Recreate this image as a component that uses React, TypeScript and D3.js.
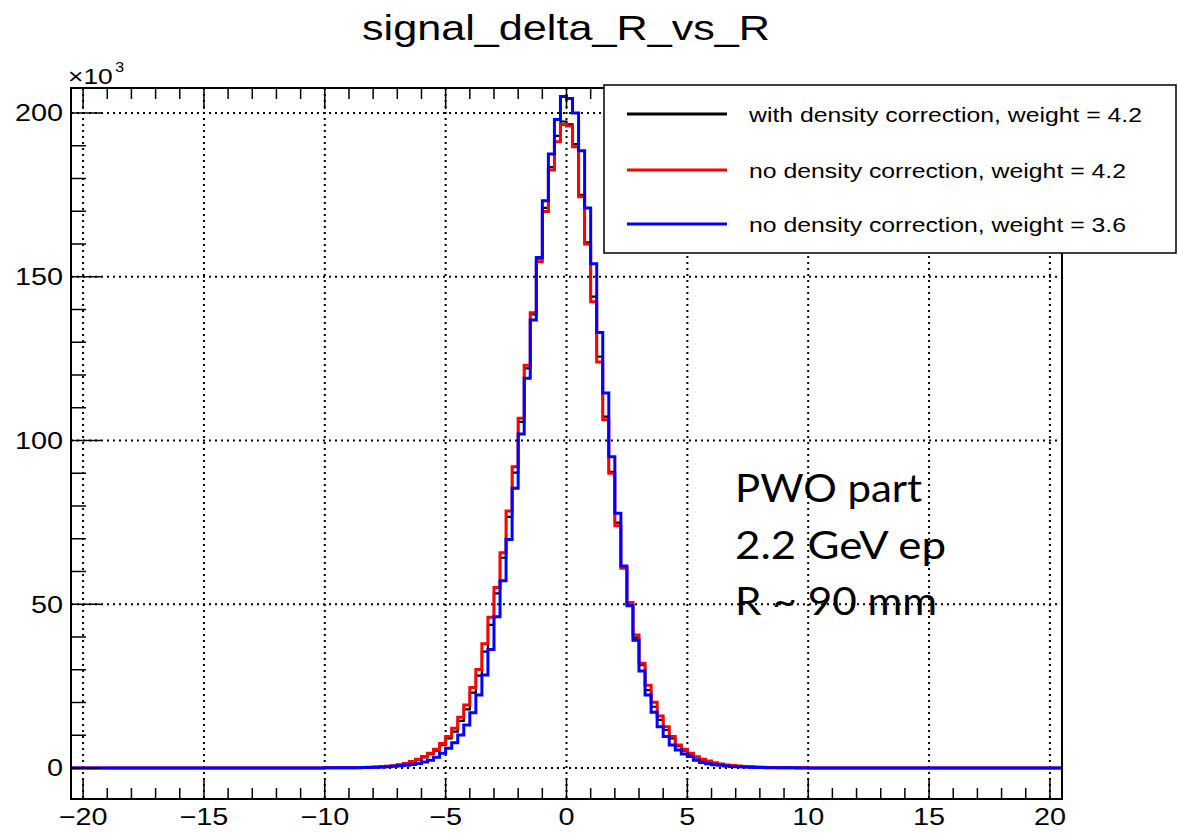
import React from 'react';
import * as d3 from 'd3';

// ---------- data ----------
const TITLE = 'signal_delta_R_vs_R';
const X_MIN = -20.5;
const X_MAX = 20.5;
const BIN_WIDTH = 0.25;
const DATA_X_START = -10; // left edge of the first stored bin; bins outside the stored window are empty
const X_TICKS = [-20, -15, -10, -5, 0, 5, 10, 15, 20];
const Y_TICKS = [0, 50, 100, 150, 200]; // in units of 10^3
const SERIES_LABELS = [
  'with density correction, weight = 4.2',
  'no density correction, weight = 4.2',
  'no density correction, weight = 3.6',
];
const SERIES_COLORS = ['#000000', '#ff0000', '#0000ff'];
const NOTE_LINES = ['PWO part', '2.2 GeV ep', 'R ~ 90 mm'];

// counts (x10^3) for bins of width 0.25 from -10 to +10
const blackCounts = [
  0.04, 0.05, 0.06, 0.08, 0.1, 0.13, 0.17, 0.22, 0.28, 0.37, 0.48, 0.65, 0.92,
  1.3, 1.85, 2.5, 3.2, 4.2, 5.3, 7.0, 9.0, 11.1, 14.4, 17.9, 23.0, 28.2, 35.5,
  43.7, 53.3, 64.2, 76.7, 90.2, 105.7, 122, 138.5, 155.5, 171, 183.5, 193, 197.4,
  196.5, 190.5, 175, 160.5, 143.9, 125.6, 107.3, 90.4, 74.9, 61.3, 50, 39.8, 31.4,
  23.8, 18.7, 14.7, 11.6, 9.0, 6.7, 5.3, 4.2, 3.2, 2.5, 1.9, 1.5, 1.15, 0.9, 0.7,
  0.55, 0.42, 0.33, 0.26, 0.2, 0.16, 0.12, 0.1, 0.08, 0.06, 0.05, 0.04,
];
const redCounts = [
  0.05, 0.06, 0.07, 0.09, 0.11, 0.14, 0.18, 0.23, 0.3, 0.4, 0.52, 0.7, 0.98,
  1.4, 2.0, 2.7, 3.5, 4.5, 5.7, 7.5, 9.6, 12.1, 15.5, 19.2, 24.6, 30.1, 37.9,
  46, 55.1, 65.7, 78.5, 92, 106.8, 123, 139, 154.6, 169.9, 182.6, 191.2, 196.5,
  196, 189.7, 174.4, 160, 142.4, 124, 106.3, 90, 74, 61, 50.5, 40.6, 32,
  25.3, 20.1, 15.9, 12.6, 9.6, 7.0, 5.7, 4.5, 3.4, 2.7, 2.1, 1.6, 1.25, 0.95, 0.75,
  0.58, 0.45, 0.35, 0.28, 0.22, 0.17, 0.13, 0.1, 0.08, 0.06, 0.05, 0.04,
];
const blueCounts = [
  0.04, 0.05, 0.06, 0.07, 0.09, 0.11, 0.14, 0.18, 0.23, 0.3, 0.4, 0.5, 0.65,
  0.85, 1.1, 1.4, 1.8, 2.4, 3.3, 4.5, 6.0, 7.7, 10.1, 13.1, 16.9, 22.3, 28.4,
  36.2, 46.2, 57.2, 69.8, 85.4, 102, 119, 136.8, 155.9, 173.2, 187.5, 198, 205,
  204.4, 200, 188.5, 171, 154, 133, 114.5, 95, 77.8, 61.7, 49.5, 39, 29.6,
  22.3, 17, 12.6, 9.6, 7.0, 5.5, 4.3, 3.5, 2.4, 1.7, 1.3, 1.0, 0.8, 0.6, 0.45,
  0.35, 0.28, 0.22, 0.17, 0.13, 0.1, 0.08, 0.06, 0.05, 0.04, 0.03, 0.03,
];
const SERIES = [blackCounts, redCounts, blueCounts];

// ---------- layout ----------
const W = 1178;
const H = 835;
const FRAME = { left: 71, right: 1062, top: 88, bottom: 799 };
const Y_DOMAIN: [number, number] = [-9.47, 207.63];
const FONT = '"Liberation Sans", Arial, Helvetica, sans-serif';
const SX = 1.2;

const x = d3.scaleLinear().domain([X_MIN, X_MAX]).range([FRAME.left, FRAME.right]);
const y = d3.scaleLinear().domain(Y_DOMAIN).range([FRAME.bottom, FRAME.top]);

function stepPoints(counts: number[]): [number, number][] {
  const nBins = Math.round((X_MAX - X_MIN) / BIN_WIDTH);
  const pts: [number, number][] = [];
  for (let i = 0; i < nBins; i++) {
    const lo = X_MIN + i * BIN_WIDTH;
    const k = Math.round((lo - DATA_X_START) / BIN_WIDTH);
    const v = k >= 0 && k < counts.length ? counts[k] : 0;
    pts.push([lo, v]);
  }
  pts.push([X_MAX, pts[pts.length - 1][1]]);
  return pts;
}

const stepLine = d3
  .line<[number, number]>()
  .x((d) => x(d[0]))
  .y((d) => y(d[1]))
  .curve(d3.curveStepAfter);

function SText(props: {
  x: number;
  y: number;
  size: number;
  anchor?: 'start' | 'middle' | 'end';
  sx?: number;
  family?: string;
  children: React.ReactNode;
}) {
  const { sx = SX, anchor = 'start', family = FONT } = props;
  return (
    <text
      transform={`translate(${props.x},${props.y}) scale(${sx},1)`}
      fontSize={props.size}
      textAnchor={anchor}
      fontFamily={family}
      fill="#000"
    >
      {props.children}
    </text>
  );
}

export default function App() {
  const xMinor = d3.range(-20, 21, 1).filter((v) => v % 5 !== 0);
  const yMinor = d3.range(0, 201, 10).filter((v) => v % 50 !== 0);
  const xMajLen = 21;
  const xMinLen = 11;
  const yMajLen = 30;
  const yMinLen = 15;
  const legendRows = [114, 170, 224];
  const legendLens = [393, 377, 377];
  const noteLens = [187, 211, 202];

  return (
    <svg
      width={W}
      height={H}
      style={{ position: 'absolute', left: 0, top: 0, background: '#fff' }}
    >
      <rect x={0} y={0} width={W} height={H} fill="#fff" />
      {/* grid */}
      <g stroke="#000" strokeWidth={2} strokeDasharray="2 4">
        {X_TICKS.map((t) => (
          <line key={'gx' + t} x1={x(t)} x2={x(t)} y1={FRAME.top} y2={FRAME.bottom} />
        ))}
        {Y_TICKS.map((t) => (
          <line key={'gy' + t} x1={FRAME.left} x2={FRAME.right} y1={y(t)} y2={y(t)} />
        ))}
      </g>

      {/* histograms */}
      {SERIES.map((s, i) => (
        <path
          key={'h' + i}
          d={stepLine(stepPoints(s)) || ''}
          fill="none"
          stroke={SERIES_COLORS[i]}
          strokeWidth={i === 0 ? 2.2 : 3}
        />
      ))}

      {/* ticks */}
      <g stroke="#000" strokeWidth={1.5}>
        {X_TICKS.map((t) => (
          <g key={'xt' + t}>
            <line x1={x(t)} x2={x(t)} y1={FRAME.bottom} y2={FRAME.bottom - xMajLen} />
            <line x1={x(t)} x2={x(t)} y1={FRAME.top} y2={FRAME.top + xMajLen} />
          </g>
        ))}
        {xMinor.map((t) => (
          <g key={'xm' + t}>
            <line x1={x(t)} x2={x(t)} y1={FRAME.bottom} y2={FRAME.bottom - xMinLen} />
            <line x1={x(t)} x2={x(t)} y1={FRAME.top} y2={FRAME.top + xMinLen} />
          </g>
        ))}
        {Y_TICKS.map((t) => (
          <line key={'yt' + t} x1={FRAME.left} x2={FRAME.left + yMajLen} y1={y(t)} y2={y(t)} />
        ))}
        {yMinor.map((t) => (
          <line key={'ym' + t} x1={FRAME.left} x2={FRAME.left + yMinLen} y1={y(t)} y2={y(t)} />
        ))}
      </g>

      {/* frame */}
      <rect
        x={FRAME.left}
        y={FRAME.top}
        width={FRAME.right - FRAME.left}
        height={FRAME.bottom - FRAME.top}
        fill="none"
        stroke="#000"
        strokeWidth={2}
      />

      {/* tick labels */}
      {X_TICKS.map((t) => (
        <SText key={'xl' + t} x={x(t)} y={FRAME.bottom + 26} size={24} anchor="middle">
          {t < 0 ? '\u2212' + Math.abs(t) : String(t)}
        </SText>
      ))}
      {Y_TICKS.map((t) => (
        <SText key={'yl' + t} x={63} y={y(t) + 8.5} size={24} anchor="end">
          {String(t)}
        </SText>
      ))}
      <SText x={68} y={84} size={22} sx={1.2}>
        ×10
      </SText>
      <SText x={115} y={72} size={15} sx={1.1}>
        3
      </SText>

      {/* title */}
      <SText x={566} y={40} size={36} anchor="middle" sx={1.2}>
        {TITLE}
      </SText>

      {/* legend */}
      <rect x={604} y={85} width={572} height={168} fill="#fff" stroke="#000" strokeWidth={1.5} />
      {SERIES_LABELS.map((lab, i) => (
        <g key={'lg' + i}>
          <line
            x1={627}
            x2={727}
            y1={legendRows[i]}
            y2={legendRows[i]}
            stroke={SERIES_COLORS[i]}
            strokeWidth={3}
          />
          <text
            x={749}
            y={legendRows[i] + 7.5}
            fontSize={21}
            fontFamily={FONT}
            textLength={legendLens[i]}
            lengthAdjust="spacingAndGlyphs"
          >
            {lab}
          </text>
        </g>
      ))}

      {/* annotation */}
      {NOTE_LINES.map((l, i) => (
        <text
          key={'n' + i}
          x={735}
          y={502 + i * 56.6}
          fontSize={39}
          fontFamily='Lato, "Open Sans", sans-serif'
          textLength={noteLens[i]}
          lengthAdjust="spacingAndGlyphs"
        >
          {l}
        </text>
      ))}
    </svg>
  );
}
